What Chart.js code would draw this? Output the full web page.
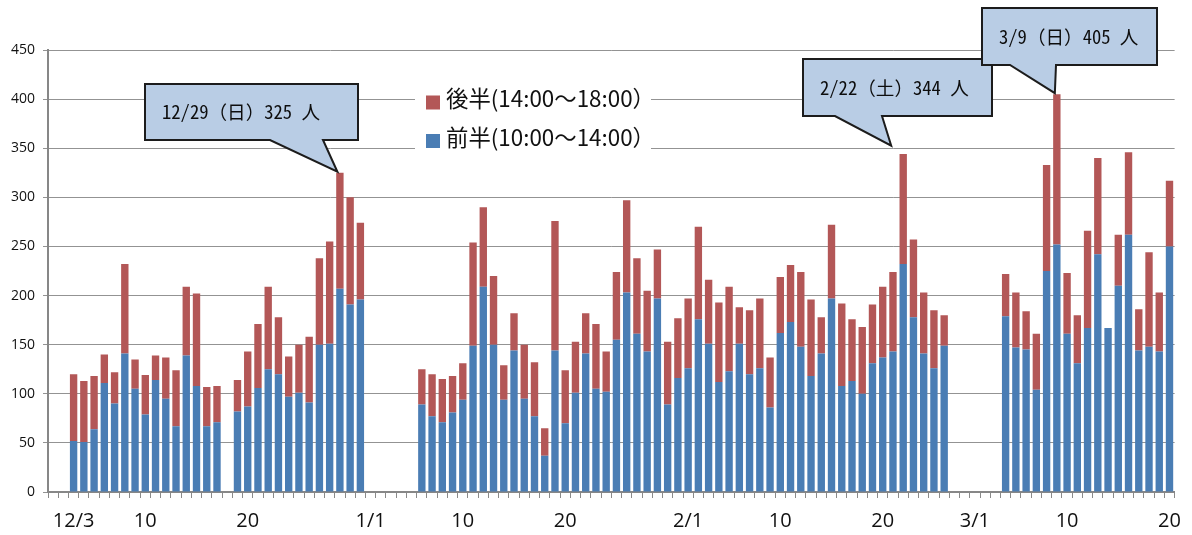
<!DOCTYPE html>
<html lang="ja">
<head>
<meta charset="utf-8">
<title>時間帯別来場者数</title>
<script src="https://cdn.jsdelivr.net/npm/chart.js@4.4.1/dist/chart.umd.min.js"></script>
<style>
  html, body { margin: 0; padding: 0; background: #fff; }
  #wrap { position: relative; width: 1192px; height: 535px; }
</style>
</head>
<body>
<div id="wrap"><canvas id="c" width="1192" height="535"></canvas></div>
<script>
// 期間：12/1〜3/20（月, 日数）
const monthSpans = [[12, 31], [1, 31], [2, 28], [3, 20]];
const days = [];
monthSpans.forEach(([m, n]) => { for (let d = 1; d <= n; d++) days.push(m + '/' + d); });

// 前半（10:00〜14:00）の人数。null は休業日
const firstHalf = [
  // 12月
  null, null, 52, 51, 64, 111, 90, 141, 105, 79, 114, 95, 67, 139, 108, 67, 71, null,
  82, 87, 106, 125, 120, 97, 101, 91, 150, 151, 207, 191, 196,
  // 1月
  null, null, null, null, null, 89, 77, 71, 81, 94, 149, 209, 150, 94, 144, 95, 77, 37,
  144, 70, 101, 141, 105, 102, 155, 203, 161, 143, 197, 89, 116,
  // 2月
  126, 176, 151, 112, 123, 151, 120, 126, 86, 162, 173, 148, 118, 141, 197, 108, 113, 100,
  131, 137, 143, 232, 178, 141, 126, 149, null, null,
  // 3月
  null, null, null, 179, 147, 145, 104, 225, 252, 161, 131, 167, 242, 167, 210, 262, 144,
  148, 143, 250
];

// 後半（14:00〜18:00）の人数
const secondHalf = [
  // 12月
  null, null, 68, 62, 54, 29, 32, 91, 30, 40, 25, 42, 57, 70, 94, 40, 37, null,
  32, 56, 65, 84, 58, 41, 49, 67, 88, 104, 118, 109, 78,
  // 1月
  null, null, null, null, null, 36, 43, 44, 37, 37, 105, 81, 70, 35, 38, 55, 55, 28,
  132, 54, 52, 41, 66, 41, 69, 94, 77, 62, 50, 64, 61,
  // 2月
  71, 94, 65, 81, 86, 37, 65, 71, 51, 57, 58, 76, 78, 37, 75, 84, 63, 68,
  60, 72, 81, 112, 79, 62, 59, 31, null, null,
  // 3月
  null, null, null, 43, 56, 39, 57, 108, 153, 62, 49, 99, 98, 0, 52, 84, 42,
  96, 60, 67
];

// 横軸に表示する目盛り
const tickDates = ['12/3', '12/10', '12/20', '1/1', '1/10', '1/20', '2/1', '2/10', '2/20', '3/1', '3/10', '3/20'];
const tickTexts = ['12/3', '10', '20', '1/1', '10', '20', '2/1', '10', '20', '3/1', '10', '20'];

// 吹き出しで示す日
const calloutDates = ['12/29', '2/22', '3/9'];
const calloutWeekdays = ['日', '土', '日'];

const seriesLabels = ['前半(10:00～14:00）', '後半(14:00～18:00）'];
const BLUE = '#4a7db4';
const RED = '#b35757';

// 吹き出しの配置（枠の位置・しっぽの付け根・先端のずれ）
const calloutLayout = [
  { x: 145, y: 84, w: 213, h: 56, baseL: 270, baseR: 323, dx: -2.5, dy: -1 },
  { x: 803, y: 59, w: 189, h: 57, baseL: 835, baseR: 882, dx: -12, dy: -8.5 },
  { x: 982, y: 8,  w: 175, h: 57, baseL: 1010, baseR: 1056, dx: -2, dy: -1 }
];

const tickMap = new Map();
tickDates.forEach((d, k) => tickMap.set(days.indexOf(d), tickTexts[k]));

const overlay = {
  id: 'overlay',
  afterDraw(chart) {
    const ctx = chart.ctx;
    ctx.save();

    // 凡例（後半を上、前半を下）
    ctx.fillStyle = '#fff';
    ctx.fillRect(415, 82, 236, 76);
    const ds = chart.data.datasets;
    const rows = [ds[1], ds[0]];
    const rowY = [102.5, 141];
    ctx.font = '22.4px "Noto Sans CJK JP", sans-serif';
    ctx.textAlign = 'left';
    ctx.textBaseline = 'middle';
    rows.forEach((d, k) => {
      ctx.fillStyle = d.backgroundColor;
      ctx.fillRect(426, rowY[k] - 7, 14, 14);
      ctx.fillStyle = '#111';
      ctx.fillText(d.label, 446, rowY[k] - 4);
    });

    // 吹き出し
    const top = chart.getDatasetMeta(1);
    calloutDates.forEach((date, k) => {
      const i = days.indexOf(date);
      const total = firstHalf[i] + secondHalf[i];
      const bar = top.data[i];
      const L = calloutLayout[k];
      const tipX = bar.x + L.dx, tipY = bar.y + L.dy;
      ctx.beginPath();
      ctx.moveTo(L.x, L.y);
      ctx.lineTo(L.x + L.w, L.y);
      ctx.lineTo(L.x + L.w, L.y + L.h);
      ctx.lineTo(L.baseR, L.y + L.h);
      ctx.lineTo(tipX, tipY);
      ctx.lineTo(L.baseL, L.y + L.h);
      ctx.lineTo(L.x, L.y + L.h);
      ctx.closePath();
      ctx.fillStyle = '#b9cde5';
      ctx.fill();
      ctx.lineWidth = 2;
      ctx.lineJoin = 'miter';
      ctx.strokeStyle = '#1c1c1c';
      ctx.stroke();
      ctx.fillStyle = '#0d0d0d';
      ctx.font = '18.6px "Noto Sans Mono CJK JP", "Noto Sans CJK JP", monospace';
      ctx.textBaseline = 'middle';
      ctx.fillText(`${date}（${calloutWeekdays[k]}）${total} 人`, L.x + 17, L.y + L.h / 2);
    });
    ctx.restore();
  }
};

function draw() {
  new Chart(document.getElementById('c'), {
    type: 'bar',
    data: {
      labels: days,
      datasets: [
        { label: seriesLabels[0], data: firstHalf, backgroundColor: BLUE },
        { label: seriesLabels[1], data: secondHalf, backgroundColor: RED }
      ]
    },
    options: {
      responsive: false,
      animation: false,
      layout: { padding: { top: 50, right: 14, left: 0, bottom: 0 } },
      datasets: { bar: { barPercentage: 0.72, categoryPercentage: 1 } },
      plugins: { legend: { display: false }, tooltip: { enabled: false } },
      scales: {
        x: {
          stacked: true,
          offset: true,
          grid: { display: true, drawOnChartArea: false, drawTicks: true, tickLength: 6, offset: true, color: '#8a8a8a', lineWidth: 1 },
          border: { display: true, color: '#878787', width: 2 },
          ticks: {
            autoSkip: false, maxRotation: 0, minRotation: 0, padding: 11, color: '#111',
            font: { family: 'Open Sans', size: 20 },
            callback: (v, i) => tickMap.has(i) ? tickMap.get(i) : ''
          },
          afterFit: (s) => { s.height = 43; }
        },
        y: {
          stacked: true,
          min: 0, max: 450,
          ticks: { stepSize: 50, padding: 8, color: '#111', font: { family: 'Open Sans', size: 14 } },
          grid: { color: '#939393', lineWidth: 1, tickLength: 5, drawTicks: true },
          border: { display: true, color: '#878787', width: 2 },
          afterFit: (s) => { s.width = 48; }
        }
      }
    },
    plugins: [overlay]
  });
}

Promise.all([
  document.fonts.load('20px "Open Sans"'),
  document.fonts.load('22px "Noto Sans CJK JP"', '後半'),
  document.fonts.load('18px "Noto Sans Mono CJK JP"', '日')
]).then(draw, draw);
</script>
</body>
</html>
